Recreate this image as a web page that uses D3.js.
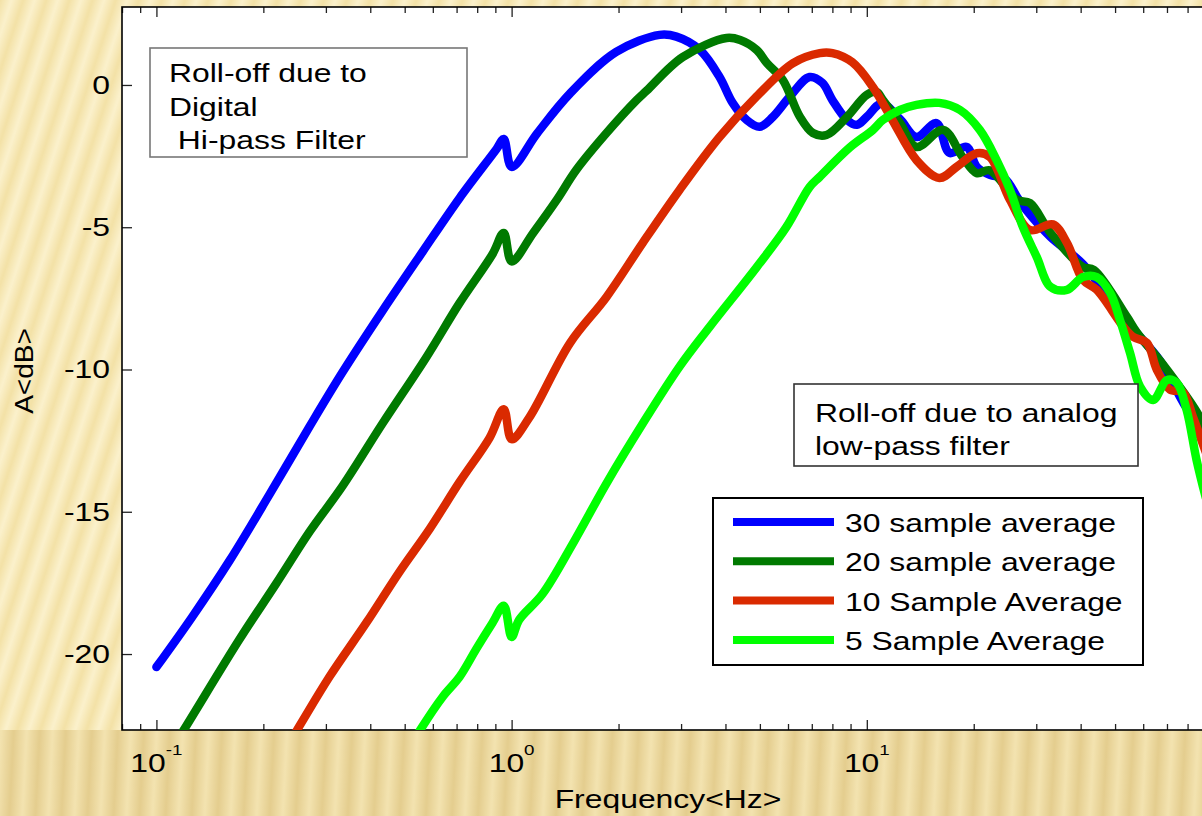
<!DOCTYPE html>
<html lang="en">
<head>
<meta charset="UTF-8">
<title>roll-off</title>
<style>
  body { margin: 0; overflow: hidden; background: #f6e7b4; }
  svg { display: block; }
  text { font-family: "Liberation Sans", Arial, sans-serif; fill: #000; }
</style>
</head>
<body>
<svg id="chart" width="1202" height="816"></svg>
<script src="https://cdn.jsdelivr.net/npm/d3@7/dist/d3.min.js"></script>
<script>
// ---- data (frequency in Hz, amplitude in dB) ----
const freq30 = [0.1,0.126,0.161,0.208,0.27,0.334,0.433,0.561,0.714,0.907,0.95,1.0,1.18,1.46,1.97,2.61,2.91,3.39,3.85,4.19,4.59,4.99,5.44,6.06,6.9,7.5,8.0,8.8,9.38,10.0,11.0,12.4,13.8,15.7,17.1,19.1,20.4,22.2,24.5,26.5,28.1,32.9,40.6,52.8,67,81,90];
const db30   = [-20.46,-18.7,-16.7,-14.4,-12.0,-10.1,-7.94,-5.87,-3.97,-2.25,-1.9,-2.88,-1.7,-0.3,1.16,1.76,1.7,1.23,0.28,-0.63,-1.23,-1.47,-1.12,-0.42,0.28,0.07,-0.53,-1.23,-1.4,-1.12,-0.65,-1.2,-1.83,-1.34,-2.39,-2.18,-2.88,-3.16,-3.3,-3.94,-4.39,-5.34,-6.3,-8.2,-9.7,-11.5,-12.0];

const freq20 = [0.1,0.119,0.171,0.218,0.27,0.334,0.433,0.576,0.714,0.884,0.95,1.0,1.15,1.34,1.52,1.85,2.25,2.4,3.03,4.03,4.4,4.9,5.23,5.8,6.48,7.05,7.7,8.8,10.0,10.66,11.1,12.4,13.8,16.4,18.6,20.4,22.2,26.5,28.8,32.9,40.6,43.6,54,57.6,68,85,90];
const db20   = [-24.2,-22.7,-19.5,-17.5,-15.7,-14.1,-11.9,-9.56,-7.66,-5.94,-5.2,-6.2,-5.2,-4.04,-2.99,-1.69,-0.53,-0.2,0.98,1.65,1.58,1.23,0.77,0.18,-1.12,-1.69,-1.76,-1.12,-0.35,-0.25,-0.53,-1.34,-2.18,-1.58,-2.53,-3.1,-3.0,-4.04,-4.15,-5.2,-6.4,-6.5,-8.15,-8.7,-9.8,-11.5,-12.1];

const freq10 = [0.2,0.248,0.307,0.39,0.484,0.588,0.714,0.867,0.95,1.0,1.12,1.46,1.85,2.34,2.97,3.85,4.9,6.2,7.37,8.0,9.1,10.4,11.8,13.8,16.0,17.9,20.4,22.2,25.3,28.8,33.4,36.6,40.6,44.4,52.8,56.3,61.5,65.5,71.3,77.6,83,90];
const db10   = [-24.6,-22.7,-20.8,-18.9,-17.1,-15.6,-13.95,-12.4,-11.4,-12.45,-11.7,-9.07,-7.45,-5.55,-3.69,-1.83,-0.4,0.77,1.12,1.12,0.8,-0.07,-1.23,-2.64,-3.27,-2.88,-2.4,-2.53,-4.04,-5.1,-4.9,-5.55,-6.85,-7.2,-8.5,-8.86,-9.07,-10.0,-10.7,-10.8,-11.7,-12.9];

const freq5 = [0.5,0.551,0.64,0.714,0.797,0.884,0.95,1.0,1.05,1.22,1.49,1.85,2.34,2.97,3.61,4.9,5.94,6.9,7.37,8.95,10.4,11.1,12.4,13.8,16.0,18.3,20.8,23.2,25.3,27.5,30.1,32.9,36.6,40.6,44.4,48.4,51.6,55.1,58.8,64,70,74.6,79.5,84.8,90];
const db5   = [-23.6,-22.7,-21.5,-20.8,-19.8,-18.9,-18.3,-19.4,-18.8,-17.9,-16.1,-14.0,-11.9,-9.9,-8.5,-6.4,-4.99,-3.59,-3.23,-2.2,-1.58,-1.23,-0.88,-0.70,-0.63,-0.88,-1.58,-2.64,-3.69,-4.99,-6.05,-7.1,-7.2,-6.75,-6.75,-7.3,-8.26,-9.42,-10.6,-11.07,-10.37,-10.47,-11.42,-13.18,-14.5];

const seriesNames  = ["30 sample average", "20 sample average", "10 Sample Average", "5 Sample Average"];
const seriesColors = ["#0000ff", "#007a00", "#da2a00", "#00ff00"];
const seriesFreq   = [freq30, freq20, freq10, freq5];
const seriesDb     = [db30, db20, db10, db5];

const yTicks   = [0, -5, -10, -15, -20];
const xMajor   = [0.1, 1, 10, 100];
const xLabeled = [0.1, 1, 10];
const xExpo    = ["-1", "0", "1"];
const xTitle   = "Frequency<Hz>";
const yTitle   = "A<dB>";
const noteHigh = ["Roll-off due to", "Digital", " Hi-pass Filter"];
const noteLow  = ["Roll-off due to analog", "low-pass filter"];

// ---- layout ----
const plotL = 122, plotT = 7, plotR = 1222, plotB = 730;
const stretch = "scale(1.25,1)";   // the slide text is drawn wide

const svg = d3.select("#chart");
const defs = svg.append("defs");

// striped slide background
function stripes(id, angle, c1, c2, w) {
  const g = defs.append("linearGradient").attr("id", id + "G");
  g.append("stop").attr("offset", "0").attr("stop-color", c1);
  g.append("stop").attr("offset", "0.5").attr("stop-color", c2);
  g.append("stop").attr("offset", "1").attr("stop-color", c1);
  const p = defs.append("pattern").attr("id", id)
    .attr("patternUnits", "userSpaceOnUse")
    .attr("width", w).attr("height", 40)
    .attr("patternTransform", "rotate(" + angle + ")");
  p.append("rect").attr("width", w).attr("height", 40).attr("fill", "url(#" + id + "G)");
}
stripes("stripeA", 18, "#f3e1a6", "#fbf1cc", 22);
stripes("stripeB", 3, "#e4cd8e", "#f3e3b0", 26);

const orange = defs.append("linearGradient").attr("id", "orange");
orange.append("stop").attr("offset", "0").attr("stop-color", "#f8dcae");
orange.append("stop").attr("offset", "1").attr("stop-color", "#f0aa4c");

defs.append("clipPath").attr("id", "plotClip")
  .append("rect").attr("x", plotL).attr("y", plotT).attr("width", plotR - plotL).attr("height", plotB - plotT);

svg.append("rect").attr("width", 1202).attr("height", 816).attr("fill", "url(#stripeA)");
svg.append("rect").attr("y", plotB).attr("width", 1202).attr("height", 816 - plotB).attr("fill", "url(#stripeB)");
svg.append("line").attr("x1", 0).attr("x2", plotL).attr("y1", 685).attr("y2", 685)
  .attr("stroke", "url(#orange)").attr("stroke-width", 3);

// ---- scales ----
const x = d3.scaleLog().domain([0.08, 100]).range([plotL, plotR]);
const y = d3.scaleLinear().domain([-22.67, 2.74]).range([plotB, plotT]);

// plot area
svg.append("rect").attr("x", plotL).attr("y", plotT).attr("width", plotR - plotL).attr("height", plotB - plotT)
  .attr("fill", "#fff");

// ---- axes (ticks point inward, box on) ----
const allTicks = x.ticks();
const isMajor = d => xMajor.some(m => Math.abs(m - d) < 1e-9);
const minorTicks = allTicks.filter(d => !isMajor(d));

svg.append("g").attr("transform", `translate(0,${plotB})`)
  .call(d3.axisBottom(x).tickValues(minorTicks).tickSize(-6).tickFormat(""));
svg.append("g").attr("transform", `translate(0,${plotB})`)
  .call(d3.axisBottom(x).tickValues(xMajor).tickSize(-10).tickFormat(""));
svg.append("g").attr("transform", `translate(0,${plotT})`)
  .call(d3.axisTop(x).tickValues(minorTicks).tickSize(-6).tickFormat(""));
svg.append("g").attr("transform", `translate(0,${plotT})`)
  .call(d3.axisTop(x).tickValues(xMajor).tickSize(-10).tickFormat(""));
svg.append("g").attr("transform", `translate(${plotL},0)`)
  .call(d3.axisLeft(y).tickValues(yTicks).tickSize(-10).tickFormat(""));
svg.append("g").attr("transform", `translate(${plotR},0)`)
  .call(d3.axisRight(y).tickValues(yTicks).tickSize(-10).tickFormat(""));
svg.selectAll(".domain").remove();
svg.selectAll(".tick line").attr("stroke", "#222").attr("stroke-width", 1.3);

svg.append("rect").attr("x", plotL).attr("y", plotT).attr("width", plotR - plotL).attr("height", plotB - plotT)
  .attr("fill", "none").attr("stroke", "#000").attr("stroke-width", 1.6);

// tick labels
yTicks.forEach(v => {
  svg.append("text").attr("transform", `translate(110,${y(v) + 9}) ${stretch}`)
    .attr("text-anchor", "end").style("font-size", "25.5px").text(v);
});
xLabeled.forEach((v, i) => {
  const t = svg.append("text").attr("transform", `translate(${x(v)},772) ${stretch}`)
    .attr("text-anchor", "middle").style("font-size", "25.5px");
  t.append("tspan").text("10");
  t.append("tspan").attr("dy", -17).style("font-size", "15px").text(xExpo[i]);
});

// axis titles
svg.append("text").attr("transform", `translate(668,808) ${stretch}`)
  .attr("text-anchor", "middle").style("font-size", "25.5px").text(xTitle);
svg.append("text").attr("transform", "translate(33,371) rotate(-90) scale(1.1,1)")
  .attr("text-anchor", "middle").style("font-size", "25.5px").text(yTitle);

// ---- curves ----
const line = d3.line()
  .x(d => x(d[0]))
  .y(d => y(d[1]))
  .curve(d3.curveCatmullRom.alpha(0.5));

const curves = svg.append("g").attr("clip-path", "url(#plotClip)");
seriesNames.forEach((name, i) => {
  const pts = seriesFreq[i].map((f, k) => [f, seriesDb[i][k]]);
  curves.append("path").datum(pts)
    .attr("d", line)
    .attr("fill", "none")
    .attr("stroke", seriesColors[i])
    .attr("stroke-width", 8.5)
    .attr("stroke-linejoin", "round")
    .attr("stroke-linecap", "round");
});

// ---- annotation boxes ----
function note(lines, bx, by, bw, bh, tx, ty, step, stroke) {
  svg.append("rect").attr("x", bx).attr("y", by).attr("width", bw).attr("height", bh)
    .attr("fill", "#fff").attr("stroke", stroke).attr("stroke-width", 1.6);
  lines.forEach((s, k) => {
    svg.append("text").attr("transform", `translate(${tx},${ty + k * step}) ${stretch}`)
      .style("font-size", "25.5px").style("white-space", "pre").text(s);
  });
}
note(noteHigh, 150, 48, 317, 109, 169, 82, 33.5, "#777");
note(noteLow, 794, 384, 344, 82, 815, 422, 33, "#333");

// ---- legend ----
const legend = svg.append("g");
legend.append("rect").attr("x", 713).attr("y", 498).attr("width", 430).attr("height", 167)
  .attr("fill", "#fff").attr("stroke", "#000").attr("stroke-width", 2);
seriesNames.forEach((name, i) => {
  const ly = 522 + i * 39.3;
  legend.append("line").attr("x1", 733).attr("x2", 834).attr("y1", ly).attr("y2", ly)
    .attr("stroke", seriesColors[i]).attr("stroke-width", 8);
  legend.append("text").attr("transform", `translate(845,${ly + 10}) ${stretch}`)
    .style("font-size", "25.5px").text(name);
});
</script>
</body>
</html>
